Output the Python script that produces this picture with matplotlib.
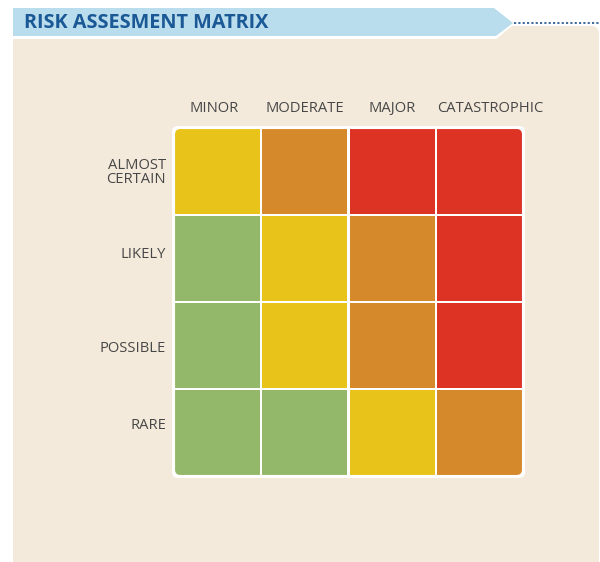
import numpy as np
import matplotlib
matplotlib.use("Agg")
import matplotlib.pyplot as plt
from matplotlib.patches import Rectangle, FancyBboxPatch, Polygon
from matplotlib.colors import ListedColormap

# ---- data ----
title = "RISK ASSESMENT MATRIX"
impact_labels = ["MINOR", "MODERATE", "MAJOR", "CATASTROPHIC"]
likelihood_labels = ["ALMOST\nCERTAIN", "LIKELY", "POSSIBLE", "RARE"]
# risk level per cell: 0 = low (green), 1 = medium (yellow), 2 = high (orange), 3 = extreme (red)
risk_almost_certain = [1, 2, 3, 3]
risk_likely = [0, 1, 2, 3]
risk_possible = [0, 1, 2, 3]
risk_rare = [0, 0, 1, 2]
risk_matrix = np.array([risk_almost_certain, risk_likely, risk_possible, risk_rare])
level_colors = ["#94b86a", "#e8c31a", "#d5892b", "#dc3325"]

# ---- style ----
W, H = 600, 562
DPI = 100
BEIGE = "#f3eadb"
BLUE_BAND = "#b9ddec"
TITLE_BLUE = "#1a5896"
TEXT_GRAY = "#474747"
FONT = ["Open Sans", "DejaVu Sans"]

fig = plt.figure(figsize=(W / DPI, H / DPI), dpi=DPI)
fig.patch.set_facecolor("white")

# background axes in pixel coordinates
bg = fig.add_axes([0, 0, 1, 1])
bg.set_xlim(0, W)
bg.set_ylim(H, 0)
bg.axis("off")

# beige panel with notch and rounded top-right corner
r = 7
arc = [(599 - r + r * np.sin(t), 26 + r - r * np.cos(t)) for t in np.linspace(0, np.pi / 2, 8)]
beige_pts = [(13, 562), (13, 39), (496, 39), (512, 26)] + arc + [(599, 562)]
bg.add_patch(Polygon(beige_pts, closed=True, facecolor=BEIGE, edgecolor="none"))

# blue title band with pointed end
band_pts = [(13, 8), (494, 8), (513, 23), (496, 36), (13, 36)]
bg.add_patch(Polygon(band_pts, closed=True, facecolor=BLUE_BAND, edgecolor="none"))
bg.plot([514, 599], [23, 23], color="#2f5f93", lw=1.3, ls=(0, (1.2, 1.2)), solid_capstyle="butt")
bg.text(24, 22.5, title, fontsize=14.3, fontweight="bold", color=TITLE_BLUE,
        family=FONT, va="center", ha="left")

# matrix axes
ax = fig.add_axes([172 / W, 1 - 478 / H, 353 / W, 352 / H])
n_rows, n_cols = risk_matrix.shape
pad = 0.02
ax.set_xlim(-pad, n_cols + pad)
ax.set_ylim(n_rows + pad, -pad)
ax.axis("off")

ax.add_patch(FancyBboxPatch((-pad, -pad), n_cols + 2 * pad, n_rows + 2 * pad,
                            boxstyle="round,pad=0,rounding_size=0.07",
                            facecolor="white", edgecolor="none"))
clip = FancyBboxPatch((0.015, 0.015), n_cols - 0.03, n_rows - 0.03,
                      boxstyle="round,pad=0,rounding_size=0.06",
                      facecolor="none", edgecolor="none", transform=ax.transData)
ax.add_patch(clip)

cmap = ListedColormap(level_colors)
gap = 0.031
for i in range(n_rows):
    for j in range(n_cols):
        rect = Rectangle((j + gap / 2, i + gap / 2), 1 - gap, 1 - gap,
                         facecolor=cmap(risk_matrix[i, j]), edgecolor="none")
        ax.add_patch(rect)
        rect.set_clip_path(clip)

# column labels
col_dx = [-3, 0, 0, 11]  # pixel nudges
for j, lab in enumerate(impact_labels):
    x, _ = ax.transData.transform((j + 0.5, 0))
    xf = (x + col_dx[j]) / W
    fig.text(xf, 1 - 108.5 / H, lab, fontsize=10.6, color=TEXT_GRAY, family=FONT,
             ha="center", va="center")

# row labels
row_dy = [1, -4, 3, -7]  # pixel nudges
for i, lab in enumerate(likelihood_labels):
    _, y = ax.transData.transform((0, i + 0.5))
    yf = (y - row_dy[i]) / H
    fig.text(166 / W, yf, lab, fontsize=10.6, color=TEXT_GRAY, family=FONT,
             ha="right", va="center", linespacing=0.95, multialignment="right")

fig.savefig("out.png", dpi=DPI, facecolor="white")
